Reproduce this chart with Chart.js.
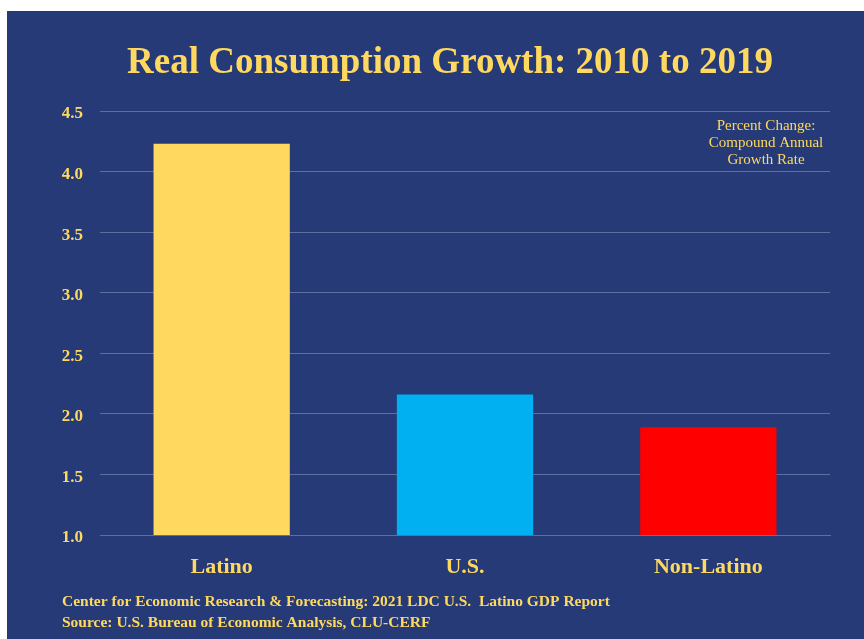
<!DOCTYPE html>
<html>
<head>
<meta charset="utf-8">
<script src="https://cdn.jsdelivr.net/npm/chart.js@4"></script>
<style>
body{margin:0;background:#fff;width:864px;height:639px;overflow:hidden;}
#wrap{position:absolute;left:7px;top:11px;width:857px;height:628px;background:#253A76;}
</style>
</head>
<body>
<div id="wrap"><canvas id="chart" width="857" height="628"></canvas></div>
<script>
// ===================== Daten =====================
const categories = ["Latino", "U.S.", "Non-Latino"];
const growth = [4.23, 2.16, 1.89];
const barColors = ["#FFD95F", "#00B0F0", "#FF0000"];
const titleText = "Real Consumption Growth: 2010 to 2019";
const noteLines = ["Percent Change:", "Compound Annual", "Growth Rate"];
const footerLines = [
    "Center for Economic Research & Forecasting: 2021 LDC U.S.  Latino GDP Report",
    "Source: U.S. Bureau of Economic Analysis, CLU-CERF"
];

const YELLOW = "#FFD95F";
const SERIF = "'Liberation Serif', 'Times New Roman', serif";

// ===================== Texte =====================
const textPlugin = {
    id: "texts",
    afterDraw(c){
        const ctx = c.ctx;
        ctx.save();
        ctx.fillStyle = YELLOW;
        ctx.textBaseline = "middle";
        // Titel
        ctx.textAlign = "center";
        ctx.font = `bold 37px ${SERIF}`;
        ctx.fillText(titleText, 443, 52);
        // Hinweis
        ctx.font = `15px ${SERIF}`;
        noteLines.forEach((t,i)=>ctx.fillText(t, 759, 115 + i*17));
        // Quelle
        ctx.textAlign = "left";
        ctx.font = `bold 15.5px ${SERIF}`;
        footerLines.forEach((t,i)=>ctx.fillText(t, 55, 591 + i*21));
        ctx.restore();
    }
};

new Chart(document.getElementById("chart"), {
    type: "bar",
    data: {
        labels: categories,
        datasets: [{
            data: growth,
            backgroundColor: barColors,
            borderWidth: 0,
            categoryPercentage: 0.56,
            barPercentage: 1
        }]
    },
    options: {
        responsive: false,
        animation: false,
        layout: {padding: {left: 0, right: 34, top: 100, bottom: 54}},
        plugins: {legend: {display: false}, tooltip: {enabled: false}},
        scales: {
            x: {
                grid: {display: false},
                border: {color: "#5E6E9E", width: 1},
                ticks: {color: YELLOW, font: {family: SERIF, size: 22, weight: "bold"}, padding: 11},
                afterFit(s){ s.height = 50; }
            },
            y: {
                min: 1, max: 4.5,
                grid: {color: "#5E6E9E", lineWidth: 1, drawTicks: false},
                border: {display: false},
                ticks: {
                    stepSize: 0.5,
                    color: YELLOW,
                    font: {family: SERIF, size: 17, weight: "bold"},
                    padding: 17,
                    labelOffset: 3,
                    callback: v => v.toFixed(1)
                },
                afterFit(s){ s.width = 93; }
            }
        }
    },
    plugins: [textPlugin]
});
</script>
</body>
</html>
